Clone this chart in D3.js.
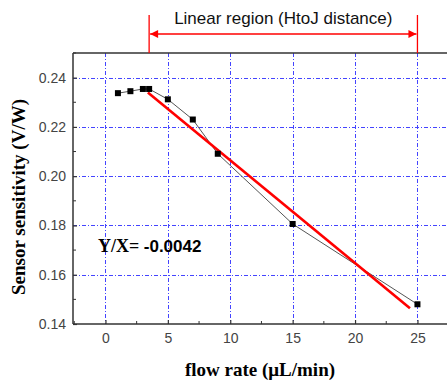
<!DOCTYPE html>
<html>
<head>
<meta charset="utf-8">
<script src="https://cdn.jsdelivr.net/npm/d3@7"></script>
<style>
  body { margin: 0; background: #fff; }
  svg { display: block; }
</style>
</head>
<body>
<div id="chart"></div>
<script>
// measured data
var flowRate = [1, 2, 3, 3.5, 5, 7, 9, 15, 25];
var sensitivity = [0.2337, 0.2345, 0.2354, 0.2354, 0.2312, 0.2230, 0.2091, 0.1806, 0.1480];

// linear fit line (endpoints on the fit)
var fitX = [3.4, 24.4];
var fitY = [0.2340, 0.1464];

var xTicks = [0, 5, 10, 15, 20, 25];
var xMinor = [-2.5, 2.5, 7.5, 12.5, 17.5, 22.5, 27.5];
var yTicks = [0.14, 0.16, 0.18, 0.20, 0.22, 0.24];
var yMinor = [0.15, 0.17, 0.19, 0.21, 0.23, 0.25];
var regionX = [3.5, 25];

renderChart();

function renderChart() {

  var W = 447, H = 381;
  var plotLeft = 73, plotTop = 53, plotBottom = 324;

  var x = d3.scaleLinear().domain([-2.6, 27.5]).range([plotLeft, plotLeft + 30.1 * 12.48]);
  var y = d3.scaleLinear().domain([0.14, 0.25]).range([plotBottom, plotTop]);

  // pixel-snapped position for 1px lines
  function px(v) { return Math.round(v) + 0.5; }

  var gridColor = '#4444ff';

  var svg = d3.select('#chart').append('svg')
      .attr('width', W)
      .attr('height', H);

  // grid
  svg.append('g').selectAll('line')
      .data(xTicks)
    .enter().append('line')
      .attr('x1', function(d) { return px(x(d)); })
      .attr('x2', function(d) { return px(x(d)); })
      .attr('y1', plotTop)
      .attr('y2', plotBottom)
      .attr('stroke', gridColor)
      .attr('stroke-width', 1)
      .attr('shape-rendering', 'crispEdges')
      .attr('stroke-dasharray', '4,2,1,2');

  svg.append('g').selectAll('line')
      .data(yTicks.slice(1))
    .enter().append('line')
      .attr('x1', plotLeft)
      .attr('x2', W + 5)
      .attr('y1', function(d) { return px(y(d)); })
      .attr('y2', function(d) { return px(y(d)); })
      .attr('stroke', gridColor)
      .attr('stroke-width', 1)
      .attr('shape-rendering', 'crispEdges')
      .attr('stroke-dasharray', '4,2,1,2');

  // axes
  var xAxis = d3.axisBottom(x)
      .tickValues(xTicks)
      .tickFormat(d3.format('d'))
      .tickSize(-4)
      .tickPadding(9);

  var yAxis = d3.axisLeft(y)
      .tickValues(yTicks)
      .tickFormat(d3.format('.2f'))
      .tickSize(-4)
      .tickPadding(7);

  var gx = svg.append('g')
      .attr('transform', 'translate(0,' + plotBottom + ')')
      .call(xAxis);

  var gy = svg.append('g')
      .attr('transform', 'translate(' + plotLeft + ',0)')
      .call(yAxis);

  [gx, gy].forEach(function(g) {
    g.select('.domain').remove();
    g.selectAll('line').attr('stroke', '#333').attr('stroke-width', 1.2);
    g.selectAll('text')
      .attr('font-family', 'Liberation Sans, Arial, sans-serif')
      .attr('font-size', '14px')
      .attr('fill', '#444');
  });

  // minor ticks
  svg.append('g').selectAll('line')
      .data(xMinor)
    .enter().append('line')
      .attr('x1', function(d) { return x(d); })
      .attr('x2', function(d) { return x(d); })
      .attr('y1', plotBottom)
      .attr('y2', plotBottom - 3)
      .attr('stroke', '#333');

  svg.append('g').selectAll('line')
      .data(yMinor)
    .enter().append('line')
      .attr('x1', plotLeft)
      .attr('x2', plotLeft + 3)
      .attr('y1', function(d) { return y(d); })
      .attr('y2', function(d) { return y(d); })
      .attr('stroke', '#333');

  // frame
  svg.append('line')
      .attr('x1', plotLeft).attr('x2', W + 5)
      .attr('y1', plotTop).attr('y2', plotTop)
      .attr('stroke', '#333').attr('stroke-width', 1.5);
  svg.append('line')
      .attr('x1', plotLeft).attr('x2', W + 5)
      .attr('y1', plotBottom).attr('y2', plotBottom)
      .attr('stroke', '#333').attr('stroke-width', 1.5);
  svg.append('line')
      .attr('x1', plotLeft).attr('x2', plotLeft)
      .attr('y1', plotTop).attr('y2', plotBottom)
      .attr('stroke', '#333').attr('stroke-width', 1.5);

  // data line
  var pts = flowRate.map(function(d, i) { return [d, sensitivity[i]]; });
  var line = d3.line()
      .x(function(d) { return x(d[0]); })
      .y(function(d) { return y(d[1]); });

  svg.append('path')
      .datum(pts)
      .attr('fill', 'none')
      .attr('stroke', '#555')
      .attr('stroke-width', 1)
      .attr('d', line);

  // fit line
  svg.append('path')
      .datum(fitX.map(function(d, i) { return [d, fitY[i]]; }))
      .attr('fill', 'none')
      .attr('stroke', '#ff0000')
      .attr('stroke-width', 2.6)
      .attr('d', line);

  // markers
  svg.selectAll('rect.pt')
      .data(pts)
    .enter().append('rect')
      .attr('class', 'pt')
      .attr('x', function(d) { return x(d[0]) - 3; })
      .attr('y', function(d) { return y(d[1]) - 3; })
      .attr('width', 6)
      .attr('height', 6)
      .attr('fill', '#000');

  // linear region annotation
  svg.append('defs').append('marker')
      .attr('id', 'ah')
      .attr('viewBox', '0 0 10 10')
      .attr('refX', 10).attr('refY', 5)
      .attr('markerWidth', 10).attr('markerHeight', 8)
      .attr('markerUnits', 'userSpaceOnUse')
      .attr('orient', 'auto-start-reverse')
    .append('path')
      .attr('d', 'M0,0L10,5L0,10z')
      .attr('fill', '#ff0000');

  svg.append('g').selectAll('line')
      .data(regionX)
    .enter().append('line')
      .attr('x1', function(d) { return x(d); })
      .attr('x2', function(d) { return x(d); })
      .attr('y1', 15)
      .attr('y2', plotTop)
      .attr('stroke', '#ff0000')
      .attr('stroke-width', 1.3);

  svg.append('line')
      .attr('x1', x(regionX[0]) + 1)
      .attr('x2', x(regionX[1]) - 1)
      .attr('y1', 34)
      .attr('y2', 34)
      .attr('stroke', '#ff0000')
      .attr('stroke-width', 1.3)
      .attr('marker-start', 'url(#ah)')
      .attr('marker-end', 'url(#ah)');

  svg.append('text')
      .attr('x', (x(regionX[0]) + x(regionX[1])) / 2)
      .attr('y', 24)
      .attr('text-anchor', 'middle')
      .attr('font-family', 'Liberation Sans, Arial, sans-serif')
      .attr('font-size', '17px')
      .attr('fill', '#111')
      .text('Linear region (HtoJ distance)');

  // slope label
  var slope = svg.append('text')
      .attr('x', 98)
      .attr('y', 252)
      .attr('font-size', '17px')
      .attr('font-weight', 'bold')
      .attr('fill', '#000');
  slope.append('tspan')
      .attr('font-family', 'Liberation Serif, Times New Roman, serif')
      .attr('font-size', '18px')
      .text('Y/X= ');
  slope.append('tspan')
      .attr('font-family', 'Liberation Sans, Arial, sans-serif')
      .text('-0.0042');

  // axis titles
  svg.append('text')
      .attr('x', 260)
      .attr('y', 376)
      .attr('text-anchor', 'middle')
      .attr('font-family', 'Liberation Serif, Times New Roman, serif')
      .attr('font-weight', 'bold')
      .attr('font-size', '19px')
      .text('flow rate (\u03bcL/min)');

  svg.append('text')
      .attr('transform', 'translate(25,197) rotate(-90)')
      .attr('text-anchor', 'middle')
      .attr('font-family', 'Liberation Serif, Times New Roman, serif')
      .attr('font-weight', 'bold')
      .attr('font-size', '19px')
      .text('Sensor sensitivity (V/W)');
}
</script>
</body>
</html>
